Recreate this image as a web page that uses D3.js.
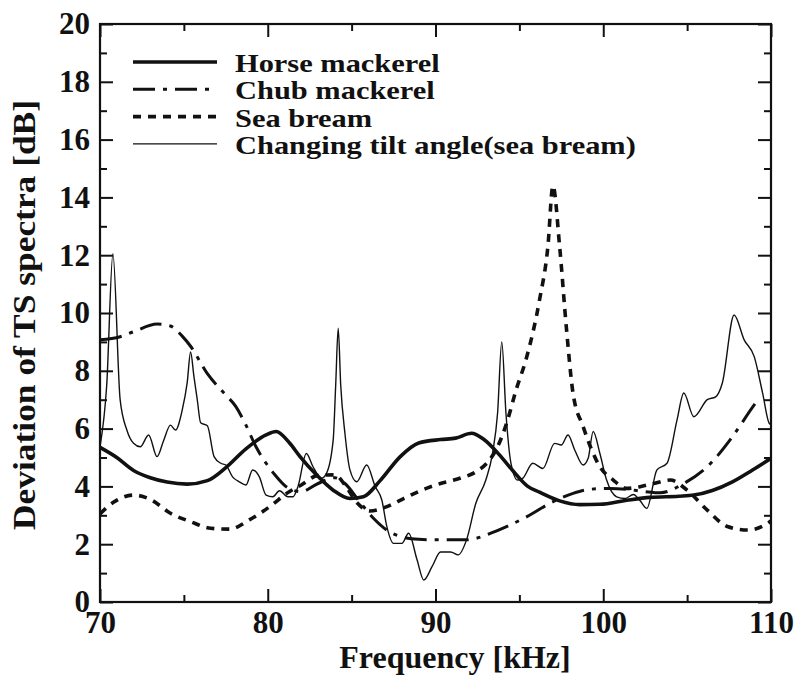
<!DOCTYPE html>
<html>
<head>
<meta charset="utf-8">
<script src="https://cdn.jsdelivr.net/npm/d3@7"></script>
<style>
  body { margin: 0; background: #fff; }
  text { font-family: "Liberation Serif", "Times New Roman", serif; font-weight: bold; fill: #111; }
</style>
</head>
<body>
<div id="chart"></div>
<script>
// [frequency kHz, deviation dB]
var horseMackerel = [[70,5.35],[71,5.0],[72,4.55],[73,4.3],[74,4.15],[75.2,4.08],[76.4,4.2],[77.5,4.65],[78.7,5.3],[79.9,5.78],[80.5,5.9],[81.3,5.5],[81.9,5.05],[82.9,4.4],[83.9,3.87],[84.9,3.58],[85.7,3.64],[86.7,4.2],[87.9,5.03],[89.0,5.5],[90.3,5.62],[91.2,5.67],[92.15,5.84],[92.85,5.64],[93.8,5.1],[94.6,4.55],[95.5,4.0],[96.2,3.8],[97.4,3.5],[98.6,3.37],[99.8,3.38],[101.4,3.52],[102.8,3.62],[104.5,3.66],[105.4,3.7],[106.5,3.86],[107.7,4.16],[108.9,4.57],[110,4.97]];
var chubMackerel = [[70,9.07],[71.2,9.18],[72,9.35],[73.4,9.62],[74.2,9.55],[74.9,9.2],[75.4,8.85],[76.4,7.9],[77.4,7.22],[78.1,6.76],[78.7,6.12],[79.3,5.37],[79.9,4.8],[80.4,4.42],[81.2,3.95],[82,3.82],[83,4.1],[84,4.3],[84.6,4.1],[85.5,3.45],[86.3,2.9],[87.2,2.45],[88,2.25],[89,2.17],[90.3,2.15],[91.8,2.15],[92.4,2.2],[93.3,2.38],[94.2,2.6],[95.6,3.0],[96.8,3.41],[98.2,3.76],[99.2,3.9],[100.4,3.93],[101.4,3.9],[102.5,3.82],[103.4,3.78],[104.8,4.1],[106.2,4.68],[107.7,5.72],[109,6.82],[109.3,7.05]];
var seaBream = [[70,3.05],[70.8,3.45],[72,3.7],[73,3.55],[74.2,3.07],[75.4,2.78],[76.6,2.55],[77.7,2.52],[78.9,2.84],[80.3,3.38],[81.1,3.75],[82,4.05],[83,4.38],[84,4.4],[84.6,4.05],[85.3,3.45],[86.1,3.15],[87.1,3.3],[88.1,3.58],[89.1,3.85],[90.3,4.1],[91.45,4.28],[92.4,4.5],[93.2,4.9],[93.7,5.37],[94.3,6.3],[94.8,7.33],[95.4,8.4],[96.2,10.45],[96.7,12.3],[97.0,14.4],[97.4,12.3],[97.8,9.5],[98.2,7.22],[98.8,6.07],[99.8,4.68],[100.6,4.22],[101.4,3.93],[102.2,3.99],[103,4.1],[104,4.22],[105,3.87],[106.2,3.18],[107.4,2.61],[108.6,2.49],[109.8,2.72],[110,2.8]];
var tiltAngle = [[70,5.37],[70.4,7.5],[70.77,12.05],[71.2,7.0],[71.6,5.95],[72.0,5.49],[72.4,5.37],[72.9,5.78],[73.4,5.03],[73.8,5.6],[74.2,6.12],[74.5,5.95],[74.9,6.64],[75.2,7.6],[75.4,8.65],[75.6,7.8],[75.8,6.99],[76.0,6.2],[76.4,6.1],[76.8,5.03],[77.2,4.8],[77.5,4.74],[77.9,4.33],[78.3,4.16],[78.7,4.05],[79.1,4.57],[79.5,4.33],[79.9,3.7],[80.3,3.64],[80.7,3.85],[81.2,3.64],[81.5,3.64],[81.8,3.99],[82.3,5.14],[82.7,4.68],[83.2,4.28],[83.5,4.45],[83.9,5.6],[84.05,7.5],[84.2,9.47],[84.35,7.5],[84.6,5.84],[84.9,4.57],[85.3,4.16],[85.9,4.74],[86.4,4.0],[86.8,3.53],[87.1,2.61],[87.5,2.03],[88.0,2.03],[88.4,2.38],[88.9,1.46],[89.3,0.76],[89.8,1.23],[90.3,1.73],[90.9,1.73],[91.35,1.63],[91.85,2.15],[92.4,3.41],[93.0,4.22],[93.4,5.14],[93.7,6.53],[93.95,9.0],[94.2,6.53],[94.5,4.8],[94.9,4.22],[95.2,4.28],[95.8,4.8],[96.4,4.62],[97.1,5.49],[97.5,5.43],[97.9,5.78],[98.3,5.26],[98.8,4.74],[99.1,4.97],[99.4,5.9],[99.8,5.14],[100.2,4.22],[100.8,3.64],[101.3,3.58],[101.8,3.72],[102.2,3.5],[102.6,3.24],[103.2,4.57],[103.8,4.8],[104.4,6.3],[104.8,7.23],[105.4,6.41],[106.2,7.0],[106.7,7.1],[107.1,7.58],[107.8,9.93],[108.4,9.07],[109.0,8.49],[109.5,7.23],[109.9,6.18],[110,6.15]];

var seriesNames = ["Horse mackerel", "Chub mackerel", "Sea bream", "Changing tilt angle(sea bream)"];
var xTicks = [70, 80, 90, 100, 110];
var xMinorTicks = [75, 85, 95, 105];
var yTicks = [0, 2, 4, 6, 8, 10, 12, 14, 16, 18, 20];
var yMinorTicks = [1, 3, 5, 7, 9, 11, 13, 15, 17, 19];

var svgWidth = 796, svgHeight = 676;
var margin = { top: 24, right: 25, bottom: 74, left: 100 };
var width = svgWidth - margin.left - margin.right;
var height = svgHeight - margin.top - margin.bottom;

var svg = d3.select("#chart").append("svg").attr("width", svgWidth).attr("height", svgHeight);
var g = svg.append("g").attr("transform", `translate(${margin.left},${margin.top})`);

var x = d3.scaleLinear().domain([70, 110]).range([0, width]);
var y = d3.scaleLinear().domain([0, 20]).range([height, 0]);

// series lines
var styles = [
  { data: horseMackerel, w: 3.6, dash: null },
  { data: chubMackerel, w: 3, dash: "22,8,4,8" },
  { data: seaBream, w: 3.6, dash: "8,7" },
  { data: tiltAngle, w: 1.4, dash: null }
];
var line = d3.line().x(d => x(d[0])).y(d => y(d[1])).curve(d3.curveMonotoneX);

g.append("defs").append("clipPath").attr("id", "clip")
  .append("rect").attr("width", width).attr("height", height);

styles.forEach(function (s) {
  g.append("path")
    .datum(s.data)
    .attr("clip-path", "url(#clip)")
    .attr("fill", "none")
    .attr("stroke", "#111")
    .attr("stroke-width", s.w)
    .attr("stroke-dasharray", s.dash)
    .attr("stroke-linejoin", "round")
    .attr("d", line);
});

// axes, ticks inward on all four sides
function styleAxis(sel) {
  sel.select(".domain").remove();
  sel.selectAll("line").attr("stroke", "#111").attr("stroke-width", 2);
  sel.selectAll("text").style("font-size", "31px").attr("fill", "#111");
}
g.append("g").attr("transform", `translate(0,${height})`)
  .call(d3.axisBottom(x).tickValues(xTicks).tickSize(-13).tickPadding(9).tickFormat(d3.format("d")))
  .call(styleAxis);
g.append("g").attr("transform", `translate(0,${height})`)
  .call(d3.axisBottom(x).tickValues(xMinorTicks).tickSize(-7).tickFormat(""))
  .call(styleAxis);
g.append("g")
  .call(d3.axisTop(x).tickValues(xTicks).tickSize(-13).tickFormat(""))
  .call(styleAxis);
g.append("g")
  .call(d3.axisTop(x).tickValues(xMinorTicks).tickSize(-7).tickFormat(""))
  .call(styleAxis);
g.append("g")
  .call(d3.axisLeft(y).tickValues(yTicks).tickSize(-13).tickPadding(10).tickFormat(d3.format("d")))
  .call(styleAxis);
g.append("g")
  .call(d3.axisLeft(y).tickValues(yMinorTicks).tickSize(-7).tickFormat(""))
  .call(styleAxis);
g.append("g").attr("transform", `translate(${width},0)`)
  .call(d3.axisRight(y).tickValues(yTicks).tickSize(-13).tickFormat(""))
  .call(styleAxis);
g.append("g").attr("transform", `translate(${width},0)`)
  .call(d3.axisRight(y).tickValues(yMinorTicks).tickSize(-7).tickFormat(""))
  .call(styleAxis);

// frame
g.append("rect").attr("width", width).attr("height", height)
  .attr("fill", "none").attr("stroke", "#111").attr("stroke-width", 2.2);

// axis titles
svg.append("text")
  .attr("x", 455).attr("y", 668)
  .attr("text-anchor", "middle")
  .style("font-size", "32px")
  .text("Frequency [kHz]");
var yTitle = svg.append("text")
  .attr("transform", "translate(35,315) rotate(-90)")
  .attr("text-anchor", "middle")
  .style("font-size", "32px")
  .text("Deviation of TS spectra [dB]");
yTitle.attr("textLength", 430).attr("lengthAdjust", "spacingAndGlyphs");

// legend
var legend = g.append("g").attr("transform", "translate(33,38)");
styles.forEach(function (s, i) {
  var row = legend.append("g").attr("transform", `translate(0,${i * 27.3})`);
  row.append("line")
    .attr("x1", 0).attr("x2", 84).attr("y1", 0).attr("y2", 0)
    .attr("stroke", "#111")
    .attr("stroke-width", s.w)
    .attr("stroke-dasharray", s.dash);
  var t = row.append("text")
    .attr("x", 102).attr("y", 10)
    .style("font-size", "26px")
    .text(seriesNames[i]);
  // the printed font is narrow and tall: stretch to the original width
  t.attr("textLength", t.node().getComputedTextLength() * 1.17)
    .attr("lengthAdjust", "spacingAndGlyphs");
});
</script>
</body>
</html>
